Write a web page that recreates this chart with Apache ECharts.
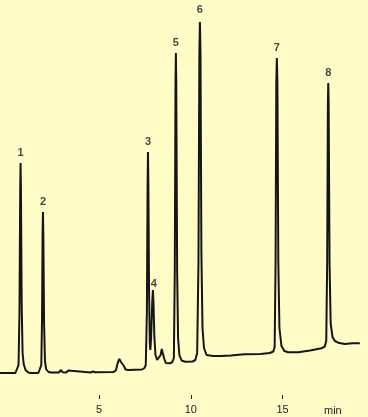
<!DOCTYPE html>
<html>
<head>
<meta charset="utf-8">
<style>
html,body{margin:0;padding:0;background:#fffcc8;}
#chart{width:368px;height:417px;}
</style>
<script src="https://cdn.jsdelivr.net/npm/echarts@6/dist/echarts.min.js"></script>
</head>
<body>
<div id="chart"></div>
<script>
// Retention time (min) and detector signal (arbitrary units) of the trace
var traceTime = [-0.39,0.45,0.55,0.62,0.67,0.71,0.73,0.75,0.79,0.84,0.90,1.00,1.15,1.30,
  1.70,1.80,1.86,1.90,1.93,1.95,1.97,2.01,2.06,2.12,2.25,2.40,
  2.82,2.93,3.02,3.22,3.33,3.42,4.55,4.67,4.80,5.80,5.93,6.02,6.11,6.20,6.27,6.36,6.45,6.60,7.35,7.48,
  7.55,7.61,7.65,7.67,7.69,7.73,7.77,7.80,7.84,7.90,7.94,7.97,8.02,8.08,8.17,8.27,8.36,8.42,8.46,8.50,8.56,8.64,8.85,9.00,
  9.08,9.13,9.17,9.19,9.21,9.26,9.31,9.38,9.50,9.70,10.10,10.25,10.35,10.42,10.47,10.50,10.53,10.58,10.64,10.72,10.86,11.20,11.60,12.20,12.75,12.85,12.95,13.80,14.30,14.50,
  14.57,14.62,14.66,14.69,14.72,14.77,14.83,14.94,15.10,15.30,15.85,16.50,17.12,17.30,
  17.38,17.43,17.47,17.49,17.51,17.56,17.62,17.72,17.85,18.03,18.39,18.80,19.21];
var traceSignal = [0,0,1,8,60,180,210,185,70,20,9,3,0.5,0,
  0,1,8,55,140,161,140,50,12,4,1,0.5,
  0.5,3,0.8,0.5,2.5,0.5,0.5,1.5,0.8,1,3,10,14,11,11.5,7,3.5,3,3.5,5,
  8,60,190,221,190,80,30,23,35,70,83,70,35,18,13,13,18,24,25,22,14,10,9.7,11,
  15,100,290,320,290,100,35,18,12.5,11.3,11.5,13,20,110,320,351,320,120,45,25,18,17,17,17.5,18.5,20.5,18.8,19,20,21.5,
  26,110,290,315,290,110,45,27,22,20.7,20.7,22.5,24.7,26.5,
  32,110,270,290,270,110,50,36,32,30.3,29,29.8,29.7];

// Peak annotations
var peakNames = ['1','2','3','4','5','6','7','8'];
var peakTimes = [0.73,1.95,7.67,7.94,9.19,10.50,14.69,17.49];
var peakHeights = [210,161,221,83,320,351,315,290];

// Axis tick labels
var tickValues = [5,10,15];
var axisUnit = 'min';

var traceData = traceTime.map(function(t,i){ return [t, traceSignal[i]]; });
var peakData = peakTimes.map(function(t,i){
  var item = {value:[t, peakHeights[i]], name: peakNames[i]};
  if (peakNames[i] === '4') { item.label = {distance: 1, offset:[1,0]}; }
  if (peakNames[i] === '6') { item.label = {distance: 7}; }
  return item;
});

var chart = echarts.init(document.getElementById('chart'), null, {renderer:'canvas'});
chart.setOption({
  backgroundColor: '#fffcc8',
  animation: false,
  grid: {left: 0, right: 1, top: 13, bottom: 22, containLabel: false},
  xAxis: {
    type: 'value', min: -0.39, max: 19.6,
    axisLine: {show: false, onZero: false},
    splitLine: {show: false},
    axisTick: {show: true, length: 4, customValues: tickValues, lineStyle: {color: '#222', width: 1}},
    axisLabel: {show: true, customValues: tickValues, margin: 9, color: '#222',
      fontFamily: 'Liberation Sans, Arial, sans-serif', fontSize: 11}
  },
  yAxis: {
    type: 'value', min: -22, max: 360, show: false
  },
  graphic: [{
    type: 'text', left: 324, top: 405,
    style: {text: axisUnit, fill: '#222', font: '11px "Liberation Sans", Arial, sans-serif'}
  }],
  series: [{
    type: 'line', data: traceData, symbol: 'none', smooth: false,
    lineStyle: {color: '#151515', width: 2}, clip: false
  }, {
    type: 'scatter', data: peakData, symbolSize: 0,
    label: {show: true, position: 'top', distance: 5, formatter: function(p){ return p.name; },
      color: '#151515', fontSize: 11, fontWeight: 'bold', fontFamily: 'Liberation Sans, Arial, sans-serif'}
  }]
});
</script>
</body>
</html>
